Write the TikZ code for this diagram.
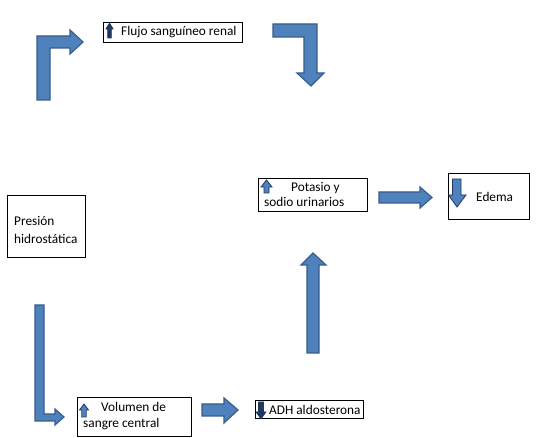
\documentclass[tikz,border=0pt]{standalone}
\usepackage{fontspec}
\setmainfont{Carlito}
\definecolor{blockfill}{RGB}{79,129,189}
\definecolor{blockline}{RGB}{56,93,138}
\definecolor{icondark}{RGB}{31,56,100}
\begin{document}
\begin{tikzpicture}[x=1pt,y=-1pt,
  blockarrow/.style={fill=blockfill,draw=blockline,line width=1.2pt,line join=miter},
  box/.style={draw=black,line width=0.9pt,fill=white,inner sep=0pt},
  txt/.style={anchor=base west,inner sep=0pt,font=\fontsize{13.3}{15}\selectfont,text=black},
  iconblue/.style={fill=blockfill,draw=icondark,line width=0.8pt},
  icondk/.style={fill=icondark,draw=icondark,line width=0.6pt}]
\useasboundingbox (0,0) rectangle (536,438);
\fill[white] (0,0) rectangle (536,438);

% boxes
\node[box,anchor=north west,minimum width=139pt,minimum height=20pt] (flujo) at (103,22) {};
\node[box,anchor=north west,minimum width=109pt,minimum height=33pt] (potasio) at (258,178) {};
\node[box,anchor=north west,minimum width=81pt,minimum height=46pt] (edema) at (448,173) {};
\node[box,anchor=north west,minimum width=78pt,minimum height=62pt] (presion) at (7,195) {};
\node[box,anchor=north west,minimum width=114pt,minimum height=39pt] (volumen) at (77,397) {};
\node[box,anchor=north west,minimum width=108pt,minimum height=18pt] (adh) at (255,400) {};

% texts
\node[txt] (tflujo) at (121,36) {Flujo sanguíneo renal};
\node[txt] (tpot1) at (291,192) {Potasio y};
\node[txt] (tpot2) at (264,207) {sodio urinarios};
\node[txt] (tedema) at (476,202) {Edema};
\node[txt] (tpres1) at (14,226) {Presión};
\node[txt] (tpres2) at (14,244) {hidrostática};
\node[txt] (tvol1) at (101,412) {Volumen de};
\node[txt] (tvol2) at (83,428) {sangre central};
\node[txt] (tadh) at (269,415) {ADH aldosterona};

% icons
\draw[icondk] (109.5,23) -- (113.2,29) -- (111.4,29) -- (111.4,38) -- (107.6,38) -- (107.6,29) -- (105.8,29) -- cycle;
\draw[iconblue] (266.5,180) -- (272,187) -- (269,187) -- (269,193) -- (264,193) -- (264,187) -- (261,187) -- cycle;
\draw[iconblue] (84,404) -- (88.5,410) -- (86.2,410) -- (86.2,417) -- (81.8,417) -- (81.8,410) -- (79.5,410) -- cycle;
\draw[icondk] (258.5,402) -- (263.5,402) -- (263.5,412) -- (266,412) -- (261,419) -- (256,412) -- (258.5,412) -- cycle;
\draw[iconblue] (452.5,179) -- (461,179) -- (461,195) -- (466,195) -- (457,207) -- (448.5,195) -- (452.5,195) -- cycle;

% block arrows
\draw[blockarrow] (37,100) -- (37,36) -- (70,36) -- (70,30) -- (83,42) -- (70,54) -- (70,48) -- (50,48) -- (50,100) -- cycle;
\draw[blockarrow] (273,24) -- (317,24) -- (317,73) -- (324,73) -- (311,86) -- (297,73) -- (304,73) -- (304,37) -- (273,37) -- cycle;
\draw[blockarrow] (379,192) -- (420,192) -- (420,187) -- (432,197.5) -- (420,208) -- (420,203) -- (379,203) -- cycle;
\draw[blockarrow] (307,353) -- (307,265) -- (301,265) -- (313,253) -- (326,265) -- (319,265) -- (319,353) -- cycle;
\draw[blockarrow] (35,305) -- (44,305) -- (44,414) -- (55,414) -- (55,409) -- (64,417) -- (55,425) -- (55,421) -- (35,421) -- cycle;
\draw[blockarrow] (202,404) -- (224,404) -- (224,398) -- (238,410) -- (224,423) -- (224,416) -- (202,416) -- cycle;
\end{tikzpicture}
\end{document}
